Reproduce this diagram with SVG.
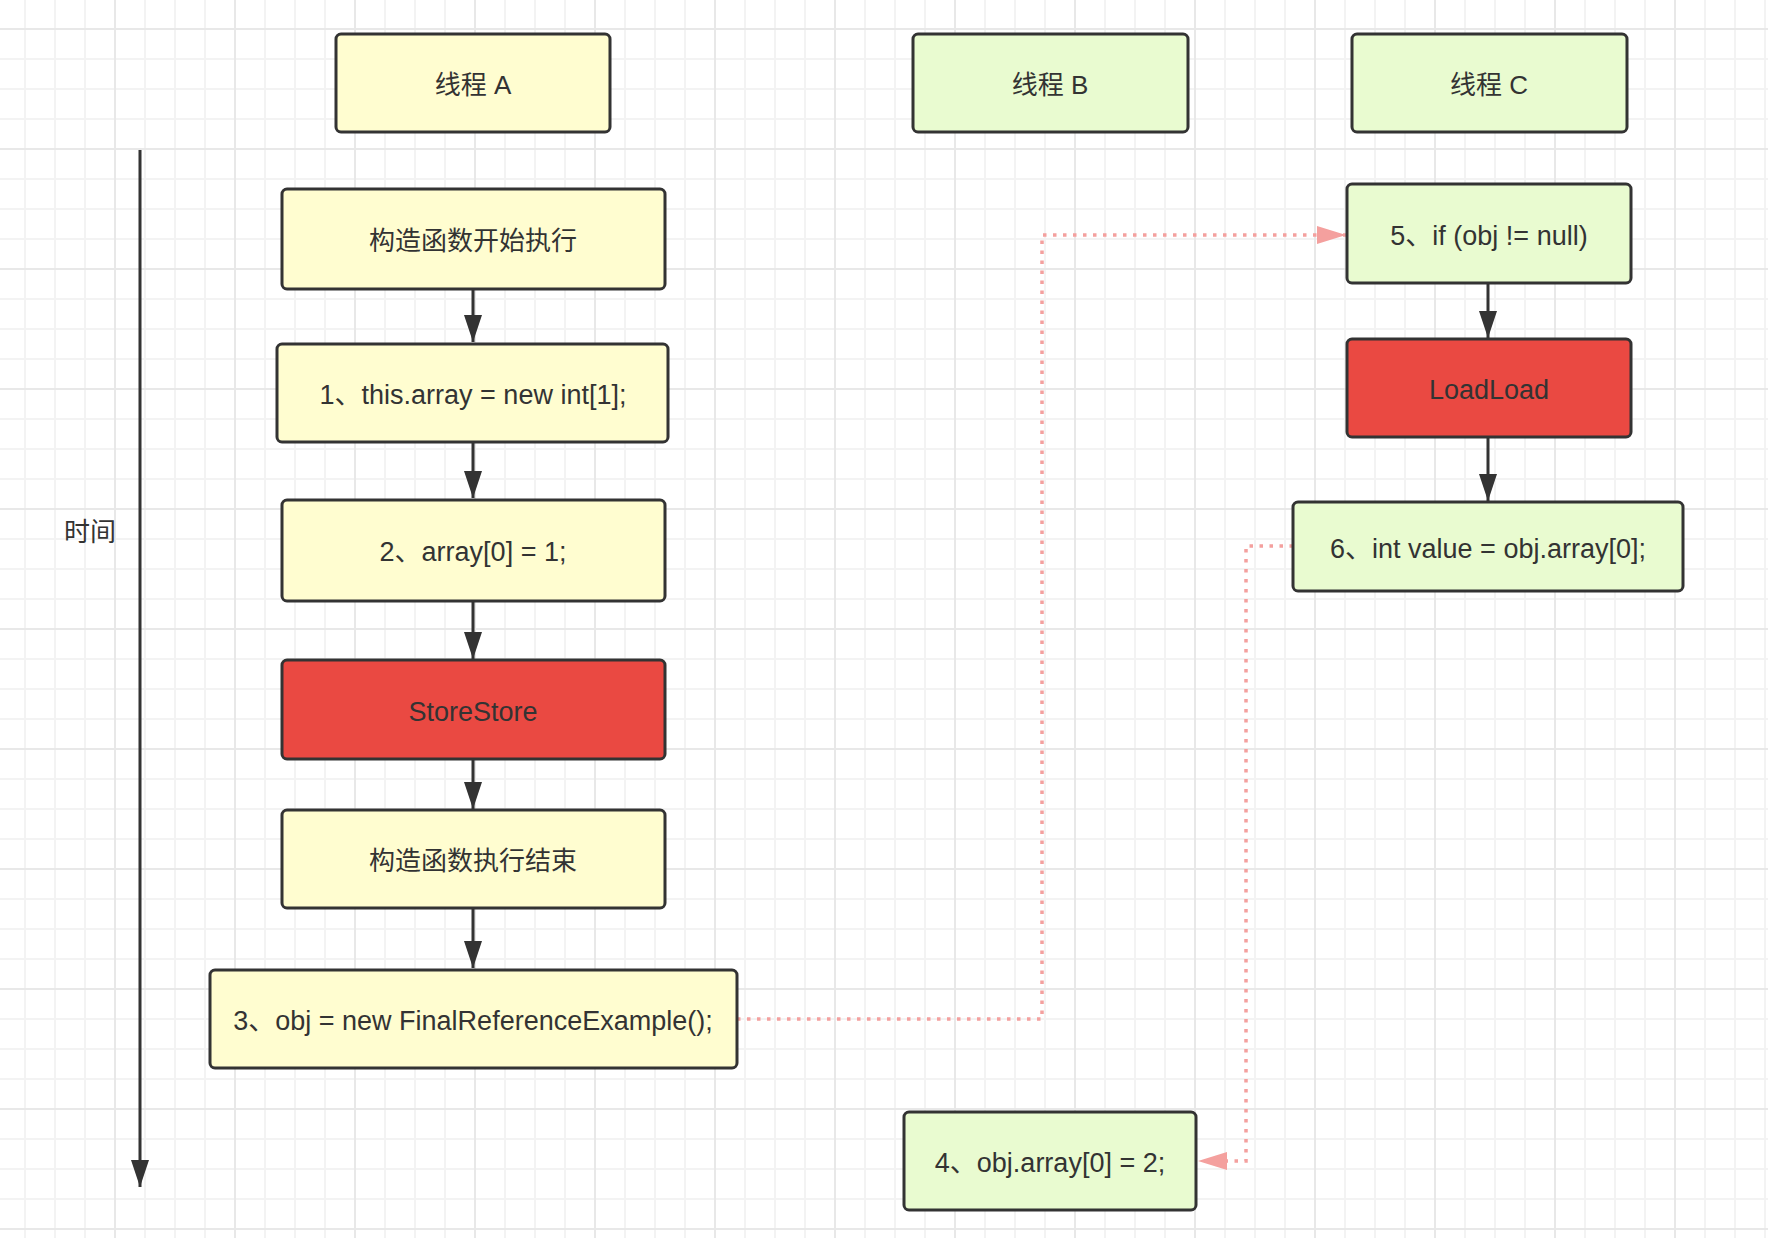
<svg xmlns="http://www.w3.org/2000/svg" width="1768" height="1238" viewBox="0 0 1768 1238">
  <defs>
    <pattern id="gridMinor" patternUnits="userSpaceOnUse" x="24" y="28" width="30" height="30">
      <rect x="0" y="0" width="2" height="30" fill="#f3f3f3"/>
      <rect x="0" y="0" width="30" height="2" fill="#f3f3f3"/>
    </pattern>
    <pattern id="gridMajor" patternUnits="userSpaceOnUse" x="114" y="28" width="120" height="120">
      <rect x="0" y="0" width="2" height="120" fill="#e8e8e8"/>
      <rect x="0" y="0" width="120" height="2" fill="#e8e8e8"/>
    </pattern>
    <marker id="arrowDark" markerUnits="userSpaceOnUse" viewBox="0 0 27 18" refX="27" refY="9" markerWidth="27" markerHeight="18" orient="auto">
      <path d="M0,0 L27,9 L0,18 Z" fill="#333333"/>
    </marker>
    <marker id="arrowPink" markerUnits="userSpaceOnUse" viewBox="0 0 29 18" refX="29" refY="9" markerWidth="29" markerHeight="18" orient="auto">
      <path d="M0,0 L29,9 L0,18 Z" fill="#f4a09e"/>
    </marker>
  </defs>
  <style>
    .box { stroke: #333333; stroke-width: 3; }
    .yellow { fill: #fffdd0; }
    .green { fill: #e9fbd0; }
    .red { fill: #ea4942; }
    .label { font-family: "Liberation Sans", "Noto Sans CJK SC", sans-serif; fill: #333333; text-anchor: middle; }
    .cjk { font-size: 26px; }
    .code { font-size: 27px; }
    .flow { stroke: #333333; stroke-width: 3; fill: none; marker-end: url(#arrowDark); }
    .dotted { stroke: #f4a09e; stroke-width: 3.5; fill: none; stroke-dasharray: 3.5 6.5; marker-end: url(#arrowPink); }
  </style>

  <rect x="0" y="0" width="1768" height="1238" fill="#ffffff"/>
  <rect x="0" y="0" width="1768" height="1238" fill="url(#gridMinor)"/>
  <rect x="0" y="0" width="1768" height="1238" fill="url(#gridMajor)"/>

  <g id="time-axis">
    <line x1="140" y1="150" x2="140" y2="1187" class="flow"/>
    <text x="90" y="541" class="label cjk">时间</text>
  </g>

  <g id="connectors">
    <line x1="473" y1="289" x2="473" y2="342" class="flow"/>
    <line x1="473" y1="442" x2="473" y2="498" class="flow"/>
    <line x1="473" y1="601" x2="473" y2="659" class="flow"/>
    <line x1="473" y1="759" x2="473" y2="809" class="flow"/>
    <line x1="473" y1="908" x2="473" y2="968" class="flow"/>
    <line x1="1488" y1="283" x2="1488" y2="338" class="flow"/>
    <line x1="1488" y1="437" x2="1488" y2="501" class="flow"/>
    <path d="M737,1019 H1042 V235 H1346" class="dotted"/>
    <path d="M1293,546 H1246 V1161 H1198" class="dotted"/>
  </g>

  <g id="thread-a">
    <rect x="336" y="34" width="274" height="98" rx="5" class="box yellow"/>
    <text x="473" y="94" class="label cjk">线程 A</text>
  </g>
  <g id="thread-b">
    <rect x="913" y="34" width="275" height="98" rx="5" class="box green"/>
    <text x="1050" y="94" class="label cjk">线程 B</text>
  </g>
  <g id="thread-c">
    <rect x="1352" y="34" width="275" height="98" rx="5" class="box green"/>
    <text x="1489" y="94" class="label cjk">线程 C</text>
  </g>

  <g id="ctor-start">
    <rect x="282" y="189" width="383" height="100" rx="5" class="box yellow"/>
    <text x="473" y="250" class="label cjk">构造函数开始执行</text>
  </g>
  <g id="step1">
    <rect x="277" y="344" width="391" height="98" rx="5" class="box yellow"/>
    <text x="473" y="404" class="label code">1、this.array = new int[1];</text>
  </g>
  <g id="step2">
    <rect x="282" y="500" width="383" height="101" rx="5" class="box yellow"/>
    <text x="473" y="561" class="label code">2、array[0] = 1;</text>
  </g>
  <g id="storestore">
    <rect x="282" y="660" width="383" height="99" rx="5" class="box red"/>
    <text x="473" y="721" class="label code">StoreStore</text>
  </g>
  <g id="ctor-end">
    <rect x="282" y="810" width="383" height="98" rx="5" class="box yellow"/>
    <text x="473" y="870" class="label cjk">构造函数执行结束</text>
  </g>
  <g id="step3">
    <rect x="210" y="970" width="527" height="98" rx="5" class="box yellow"/>
    <text x="473" y="1030" class="label code">3、obj = new FinalReferenceExample();</text>
  </g>
  <g id="step4">
    <rect x="904" y="1112" width="292" height="98" rx="5" class="box green"/>
    <text x="1050" y="1172" class="label code">4、obj.array[0] = 2;</text>
  </g>
  <g id="step5">
    <rect x="1347" y="184" width="284" height="99" rx="5" class="box green"/>
    <text x="1489" y="245" class="label code">5、if (obj != null)</text>
  </g>
  <g id="loadload">
    <rect x="1347" y="339" width="284" height="98" rx="5" class="box red"/>
    <text x="1489" y="399" class="label code">LoadLoad</text>
  </g>
  <g id="step6">
    <rect x="1293" y="502" width="390" height="89" rx="5" class="box green"/>
    <text x="1488" y="558" class="label code">6、int value = obj.array[0];</text>
  </g>
</svg>
